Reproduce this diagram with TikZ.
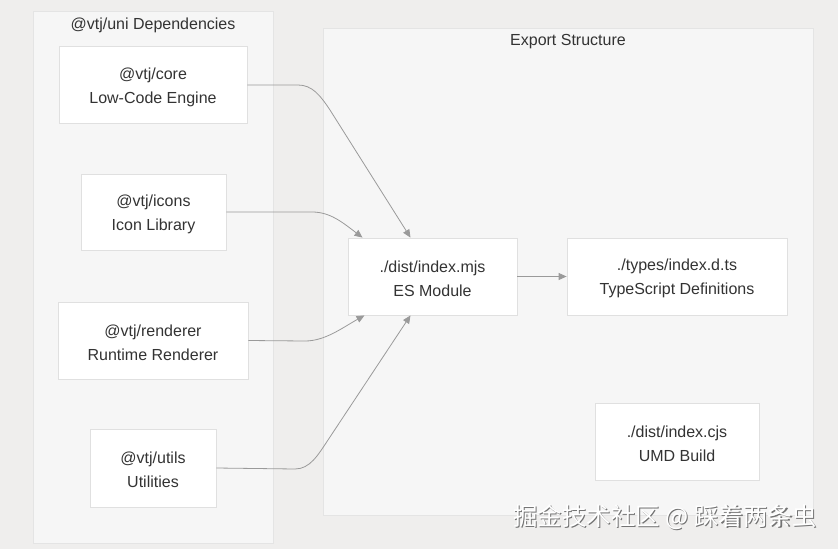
\documentclass[tikz,border=0pt]{standalone}
\usepackage{fontspec}
\setmainfont{Liberation Sans}
\newfontfamily\cjk{Noto Sans CJK SC}
\usetikzlibrary{arrows.meta}
\definecolor{bgc}{HTML}{EFEEED}
\definecolor{clfill}{HTML}{F6F6F6}
\definecolor{cldraw}{HTML}{E4E4E4}
\definecolor{nddraw}{HTML}{E0E0E0}
\definecolor{txt}{HTML}{333333}
\definecolor{edge}{HTML}{9A9A9A}
\newcommand{\topstrut}{\rule{0pt}{15.5pt}}
\tikzset{
  cluster/.style={draw=cldraw, fill=clfill, line width=0.8pt},
  box/.style={draw=nddraw, fill=white, line width=0.8pt, align=center,
    text=txt, font=\fontsize{16}{24}\selectfont, inner sep=0pt},
  cltitle/.style={text=txt, font=\fontsize{16}{20}\selectfont, inner sep=0pt},
  conn/.style={draw=edge, line width=0.8pt, -{Triangle[length=8pt,width=7pt]}},
  wmark/.style={font=\cjk\fontsize{24.5}{28}\selectfont, inner sep=0pt},
}
\begin{document}
\begin{tikzpicture}[x=1pt,y=-1pt]
\useasboundingbox (0,0) rectangle (838,549);
\fill[bgc] (0,0) rectangle (838,549);
% clusters
\draw[cluster] (33,11) rectangle (273,543);
\draw[cluster] (323,28) rectangle (813,515);
\node[cltitle] (t1) at (153,25) {@vtj/uni Dependencies};
\node[cltitle] (t2) at (568,42) {Export Structure};
% nodes
\node[box, minimum width=188pt, minimum height=77pt] (core) at (153,85) {\topstrut@vtj/core\\Low-Code Engine};
\node[box, minimum width=145pt, minimum height=76pt] (icons) at (153.5,212) {\topstrut@vtj/icons\\Icon Library};
\node[box, minimum width=190pt, minimum height=77pt] (renderer) at (153,340.5) {\topstrut@vtj/renderer\\Runtime Renderer};
\node[box, minimum width=126pt, minimum height=78pt] (utils) at (153,468) {\topstrut@vtj/utils\\Utilities};
\node[box, minimum width=169pt, minimum height=77pt] (mjs) at (432.5,276.5) {\topstrut./dist/index.mjs\\ES Module};
\node[box, minimum width=220pt, minimum height=77pt] (dts) at (677,276.5) {\topstrut./types/index.d.ts\\TypeScript Definitions};
\node[box, minimum width=164pt, minimum height=77pt] (cjs) at (677,441.5) {\topstrut./dist/index.cjs\\UMD Build};
% connectors
\coordinate (mjsA) at ([xshift=-22pt]mjs.north);
\coordinate (mjsB) at ([xshift=-70pt]mjs.north);
\coordinate (mjsC) at ([xshift=-68pt]mjs.south);
\coordinate (mjsD) at ([xshift=-22pt]mjs.south);
\draw[conn] (core.east) -- (298,85) .. controls (312,85) and (320,95) .. (330,110) -- (mjsA);
\draw[conn] (icons.east) -- (312,212) .. controls (330,212) and (342,222) .. (mjsB);
\draw[conn] (renderer.east) -- (305,341) .. controls (325,341) and (342,328) .. (mjsC);
\draw[conn] (utils.east) -- (295,469) .. controls (310,469) and (318,455) .. (328,440) -- (mjsD);
\draw[conn] (mjs.east) -- (dts.west);
% watermark
\node[wmark, text=black!55] (wm0) at (666.2,518.2) {掘金技术社区 @ 踩着两条虫};
\node[wmark, text=white] (wm) at (665,517) {掘金技术社区 @ 踩着两条虫};
\end{tikzpicture}
\end{document}
